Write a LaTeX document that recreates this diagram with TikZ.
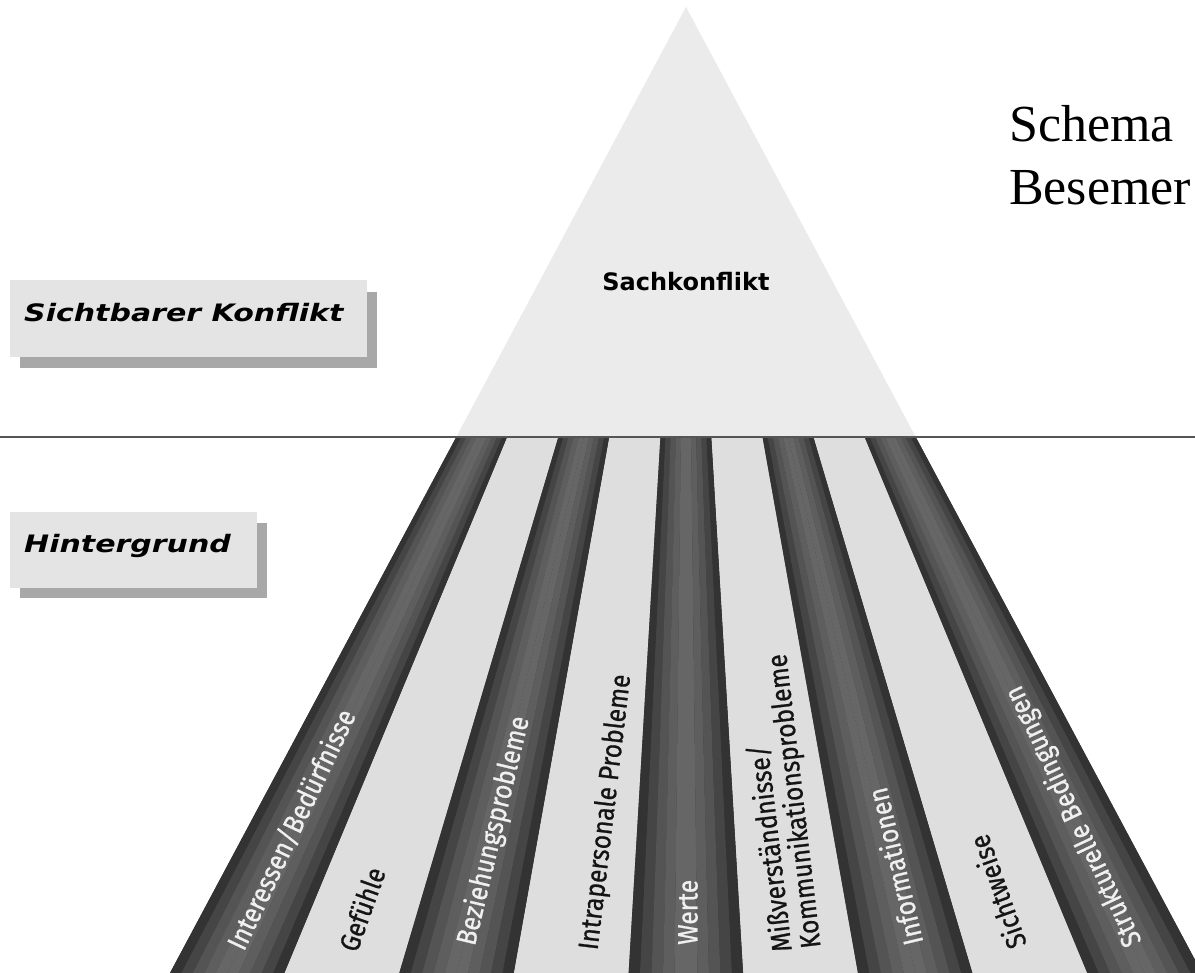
\documentclass[tikz,border=0pt]{standalone}
\usepackage{fontspec}
\setmainfont{Liberation Serif}
\newfontfamily\labfont[FakeBold=0.8,FakeStretch=0.88]{Fira Sans}
\newfontfamily\sachfont{DejaVu Sans}
\newfontfamily\boxfont[FakeStretch=1.25]{DejaVu Sans}
\usetikzlibrary{calc}
\definecolor{topgray}{HTML}{EBEBEB}
\definecolor{lightstripe}{HTML}{DEDEDE}
\definecolor{boxgray}{HTML}{E4E4E4}
\definecolor{shadowgray}{HTML}{A8A8A8}
\definecolor{linegray}{HTML}{555555}
\tikzset{
  stripelabel/.style={inner sep=0pt, anchor=west, font=\labfont\upshape\fontsize{28}{29}\selectfont},
  darklabel/.style={stripelabel, text=white!94!black},
  lightlabel/.style={stripelabel, text=black!92},
  boxlabel/.style={inner sep=0pt, anchor=base west, font=\boxfont\bfseries\itshape\fontsize{24}{26}\selectfont},
}
\begin{document}
\begin{tikzpicture}[x=1pt,y=-1pt]
\useasboundingbox (0,0) rectangle (1195,973);
\fill[white] (0,0) rectangle (1195,973);
% upper part of the pyramid
\fill[topgray] (686,7) -- (456.3,437) -- (915.7,437) -- cycle;
% stripes
\foreach \i in {0,...,8}{
  \pgfmathsetmacro{\xa}{170+114.6667*\i}
  \pgfmathsetmacro{\xb}{\xa+114.6667}
  \pgfmathsetmacro{\ta}{686+0.44513*(\xa-686)}
  \pgfmathsetmacro{\tb}{686+0.44513*(\xb-686)}
  \pgfmathtruncatemacro{\odd}{mod(\i,2)}
  \ifnum\odd=1
    \fill[lightstripe] (\ta,437) -- (\xa,973) -- (\xb,973) -- (\tb,437) -- cycle;
  \else
    \fill[black!75] (\ta,437) -- (\xa,973) -- (\xb,973) -- (\tb,437) -- cycle;
    \foreach \k in {0,...,9}{
      \pgfmathsetmacro{\fa}{\k/10}
      \pgfmathsetmacro{\fb}{(\k+1)/10}
      \pgfmathsetmacro{\shade}{round(84-24*sin(180*(\k+0.5)/10))}
      \fill[black!\shade] ({\ta+(\tb-\ta)*\fa},437) -- ({\xa+(\xb-\xa)*\fa},973)
        -- ({\xa+(\xb-\xa)*\fb},973) -- ({\ta+(\tb-\ta)*\fb},437) -- cycle;
    }
  \fi
}
% horizontal separating line
\coordinate (lineL) at (0,437);
\coordinate (lineR) at (1195,437);
\draw[linegray, line width=2pt] (lineL) -- (lineR);

% label boxes
\fill[shadowgray] (20,292) rectangle (377,368);
\fill[boxgray] (10,280) rectangle (367,357);
\node[boxlabel] (sichtbar) at (24,322) {Sichtbarer Konflikt};
\fill[shadowgray] (20,523) rectangle (267,598);
\fill[boxgray] (10,512) rectangle (257,588);
\node[boxlabel] (hinter) at (24,553) {Hintergrund};

% top label
\node[inner sep=0pt, font=\sachfont\bfseries\fontsize{24}{26}\selectfont] (sach) at (686,282) {Sachkonflikt};

% stripe labels
\node[darklabel, rotate=64.6] (l1) at (235,948) {Interessen/Bedürfnisse};
\node[lightlabel, rotate=70.4] (l2) at (347,950) {Gefühle};
\node[darklabel, rotate=76.6] (l3) at (467,945) {Beziehungsprobleme};
\node[lightlabel, rotate=83.2] (l4) at (590,950) {Intrapersonale Probleme};
\node[darklabel, rotate=90] (l5) at (688,945) {Werte};
\node[lightlabel, rotate=96.7, align=left] (l6) at (798,950) {Mißverständnisse/\\Kommunikationsprobleme};
\node[darklabel, rotate=103.3] (l7) at (913,945) {Informationen};
\node[lightlabel, rotate=109.5] (l8) at (1017,948) {Sichtweise};
\node[darklabel, rotate=115.3] (l9) at (1135,945) {Strukturelle Bedingungen};

% source note
\node[inner sep=0pt, anchor=base west, font=\fontsize{52}{62}\selectfont] (schema) at (1009,142) {Schema};
\node[inner sep=0pt, anchor=base west, font=\fontsize{52}{62}\selectfont] (besemer) at (1009,205) {Besemer};
\end{tikzpicture}
\end{document}
